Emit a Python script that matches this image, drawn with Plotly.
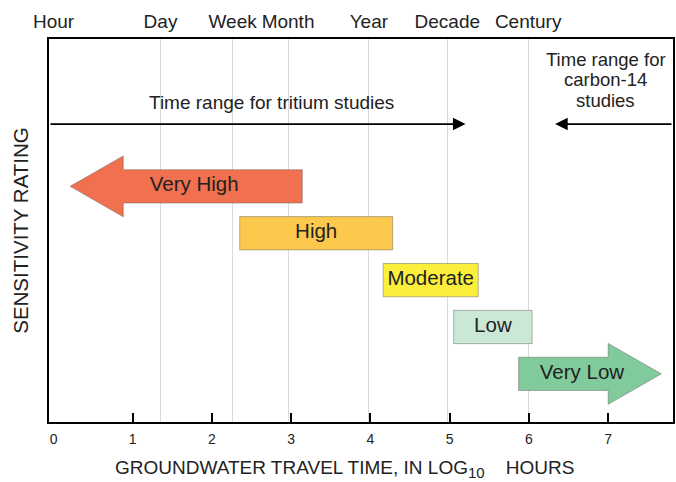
import plotly.graph_objects as go

# ---------------- data ----------------
ratings = ["Very High", "High", "Moderate", "Low", "Very Low"]
rating_lo = [0.21, 2.35, 4.16, 5.05, 5.87]      # log10 hours, left end
rating_hi = [3.14, 4.28, 5.36, 6.04, 7.67]      # log10 hours, right end
rating_kind = ["arrow_left", "box", "box", "box", "arrow_right"]
rating_row = [5, 4, 3, 2, 1]
rating_colors = ["#F0704F", "#FDC94D", "#FBEF3B", "#CBE8D5", "#80CA9C"]

time_labels = ["Hour", "Day", "Week", "Month", "Year", "Decade", "Century"]
time_positions = [0, 1.35, 2.26, 2.96, 3.98, 4.97, 5.99]

x_ticks = [0, 1, 2, 3, 4, 5, 6, 7]

tritium_range = [-0.057, 5.2]    # arrow from left frame to here
carbon_range = [7.818, 6.33]     # arrow from right frame to here

X_RANGE = [-0.057, 7.818]
Y_RANGE = [-0.027, 8.144]

FONT = "Liberation Sans, Arial, sans-serif"
TXT = "#222222"

BOX_H = 0.355
HEAD_H = 0.65
HEAD_L = 0.67

fig = go.Figure()

for name, lo, hi, kind, r, col in zip(ratings, rating_lo, rating_hi,
                                      rating_kind, rating_row, rating_colors):
    if kind == "box":
        xs = [lo, hi, hi, lo, lo]
        ys = [r - BOX_H, r - BOX_H, r + BOX_H, r + BOX_H, r - BOX_H]
        tx = (lo + hi) / 2
    elif kind == "arrow_right":
        base = hi - HEAD_L
        xs = [lo, base, base, hi, base, base, lo, lo]
        ys = [r - BOX_H, r - BOX_H, r - HEAD_H, r, r + HEAD_H, r + BOX_H, r + BOX_H, r - BOX_H]
        tx = (lo + hi) / 2 - 0.15 * HEAD_L
    else:  # arrow_left, tip at lo
        base = lo + HEAD_L
        xs = [hi, base, base, lo, base, base, hi, hi]
        ys = [r - BOX_H, r - BOX_H, r - HEAD_H, r, r + HEAD_H, r + BOX_H, r + BOX_H, r - BOX_H]
        tx = (lo + hi) / 2 + 0.15 * HEAD_L
    fig.add_trace(go.Scatter(
        x=xs, y=ys, mode="lines", fill="toself", fillcolor=col,
        line=dict(color="rgba(90,90,90,0.45)", width=1),
        hoverinfo="skip", showlegend=False))
    fig.add_trace(go.Scatter(
        x=[tx], y=[r], mode="text", text=[name],
        textfont=dict(family=FONT, size=20.5, color=TXT),
        hoverinfo="skip", showlegend=False))

# invisible trace to hold the top axis
fig.add_trace(go.Scatter(x=time_positions, y=[None] * len(time_positions),
                         xaxis="x2", mode="markers", showlegend=False,
                         hoverinfo="skip"))

# range arrows
arrow_y = 6.33
fig.add_annotation(x=tritium_range[1], y=arrow_y, ax=tritium_range[0], ay=arrow_y,
                   xref="x", yref="y", axref="x", ayref="y", text="",
                   showarrow=True, arrowhead=2, arrowsize=1.4, arrowwidth=1.8,
                   arrowcolor="black")
fig.add_annotation(x=carbon_range[1], y=arrow_y, ax=carbon_range[0], ay=arrow_y,
                   xref="x", yref="y", axref="x", ayref="y", text="",
                   showarrow=True, arrowhead=2, arrowsize=1.4, arrowwidth=1.8,
                   arrowcolor="black")

fig.add_annotation(x=2.75, y=6.80, xref="x", yref="y", showarrow=False,
                   text="Time range for tritium studies",
                   font=dict(family=FONT, size=19, color=TXT))
for txt, yy in zip(["Time range for", "carbon-14", "studies"], [7.70, 7.27, 6.84]):
    fig.add_annotation(x=6.97, y=yy, xref="x", yref="y", showarrow=False,
                       text=txt, font=dict(family=FONT, size=18.5, color=TXT))

# x-axis title (placed as annotation to match original horizontal offset)
fig.add_annotation(
    x=0.473, y=-0.123, xref="paper", yref="paper", showarrow=False,
    xanchor="center", yanchor="middle",
    text="GROUNDWATER TRAVEL TIME, IN LOG<sub><span style=\"font-size:15px\">10</span></sub>\u00a0\u00a0\u00a0 HOURS",
    font=dict(family=FONT, size=19, color=TXT))

fig.update_layout(
    width=676, height=482,
    margin=dict(l=49, r=1, t=39, b=60),
    paper_bgcolor="white", plot_bgcolor="white",
    font=dict(family=FONT, color=TXT),
    xaxis=dict(range=X_RANGE, tickmode="array", tickvals=x_ticks,
               ticktext=[str(v) for v in x_ticks], ticks="",
               tickfont=dict(size=14, color=TXT), ticklabelstandoff=3,
               minor=dict(tickmode="array", tickvals=x_ticks[1:], ticks="inside",
                          ticklen=9, tickwidth=2, tickcolor="black", showgrid=False),
               showgrid=False, zeroline=False, showline=True, mirror=True,
               linecolor="black", linewidth=2),
    xaxis2=dict(range=X_RANGE, overlaying="x", side="top", anchor="y",
                tickmode="array", tickvals=time_positions, ticktext=time_labels,
                ticks="", tickfont=dict(size=19, color=TXT), showgrid=False,
                ticklabelstandoff=6,
                minor=dict(tickmode="array", tickvals=time_positions[1:], ticks="",
                           showgrid=True, gridcolor="#dadada", gridwidth=1),
                zeroline=False, showline=False),
    yaxis=dict(range=Y_RANGE, showticklabels=False, ticks="", showgrid=False,
               zeroline=False, showline=True, mirror=True, linecolor="black",
               linewidth=2,
               title=dict(text="SENSITIVITY RATING", font=dict(size=20.5, color=TXT),
                          standoff=13)),
)

fig.write_html("out.html", config={"displayModeBar": False},
               post_script="document.body.style.margin='0';document.body.style.overflow='hidden';")
